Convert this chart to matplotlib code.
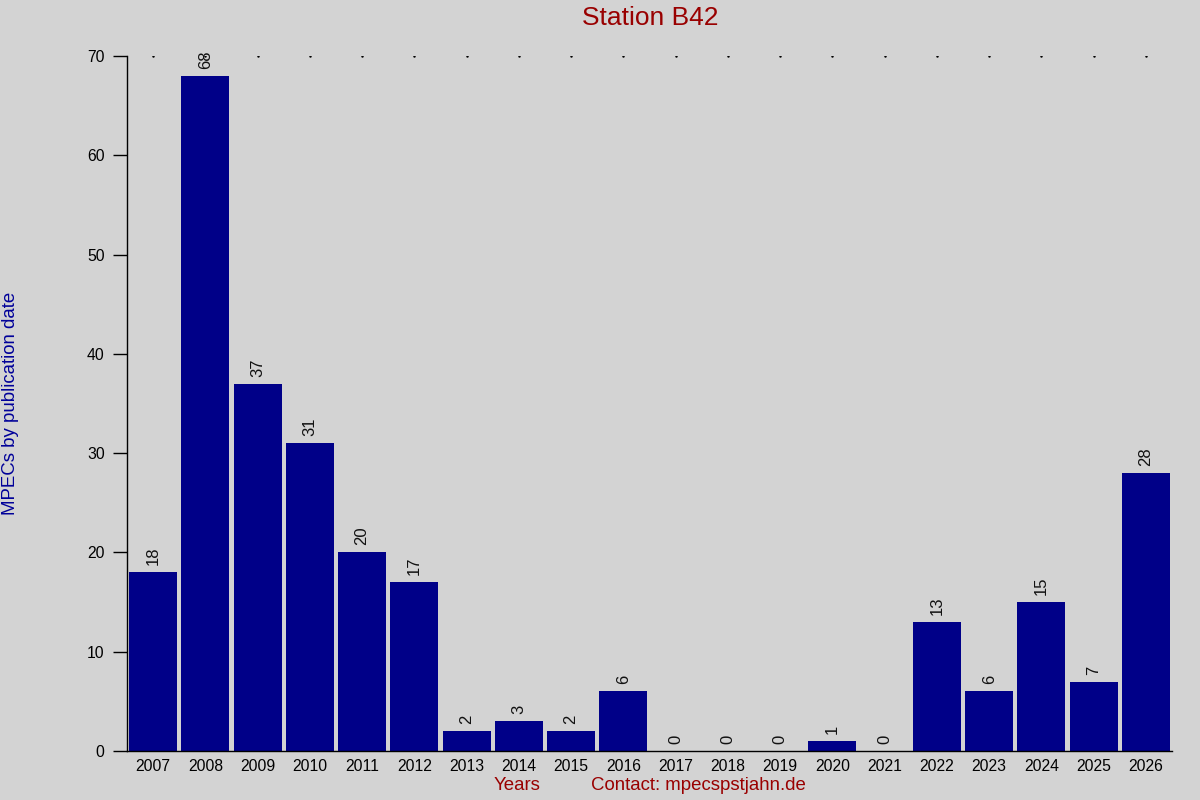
import matplotlib
matplotlib.use("Agg")
import matplotlib.pyplot as plt
import numpy as np

years = [str(y) for y in range(2007, 2027)]
counts = [18, 68, 37, 31, 20, 17, 2, 3, 2, 6, 0, 0, 0, 1, 0, 13, 6, 15, 7, 28]
yticks = [0, 10, 20, 30, 40, 50, 60, 70]

plt.rcParams['font.family'] = ['Liberation Sans', 'DejaVu Sans']
bg = '#d3d3d3'
bar_color = '#000088'
red = '#990000'

fig = plt.figure(figsize=(12, 8), dpi=100, facecolor=bg)
ax = fig.add_axes([0.1058, 0.06125, 0.8709, 0.86875], facecolor=bg)

x = np.arange(len(years))
ax.bar(x, counts, width=0.92, color=bar_color)
for xi, c in zip(x, counts):
    ax.annotate(str(c), (xi, c), xytext=(0, 5), textcoords='offset points',
                rotation=90, ha='center', va='bottom', fontsize=12, color='#111111')

ax.plot(x, [70] * len(x), linestyle='none', marker='.', markersize=1.5, color='black')

ax.set_xlim(-0.5, len(years) - 0.5)
ax.set_ylim(0, 70)
ax.set_yticks(yticks)
ax.set_xticks(x)
ax.set_xticklabels(years)
ax.tick_params(axis='x', length=0, labelsize=11.3, pad=6)
ax.tick_params(axis='y', length=10, width=1, labelsize=11.3, pad=6, direction='out')
for s in ['top', 'right']:
    ax.spines[s].set_visible(False)
ax.spines['left'].set_linewidth(1)
ax.spines['bottom'].set_linewidth(1)

fig.text(0.5417, 0.977, 'Station B42', ha='center', va='center', fontsize=19, color=red)
fig.text(0.009, 0.496, 'MPECs by publication date', rotation=90, ha='center', va='center',
         fontsize=13.4, color='#000099')
fig.text(0.431, 0.0175, 'Years', ha='center', va='center', fontsize=13.4, color=red)
fig.text(0.582, 0.0175, 'Contact: mpecspstjahn.de', ha='center', va='center', fontsize=13.4, color=red)

fig.savefig('out.png', dpi=100, facecolor=bg)
